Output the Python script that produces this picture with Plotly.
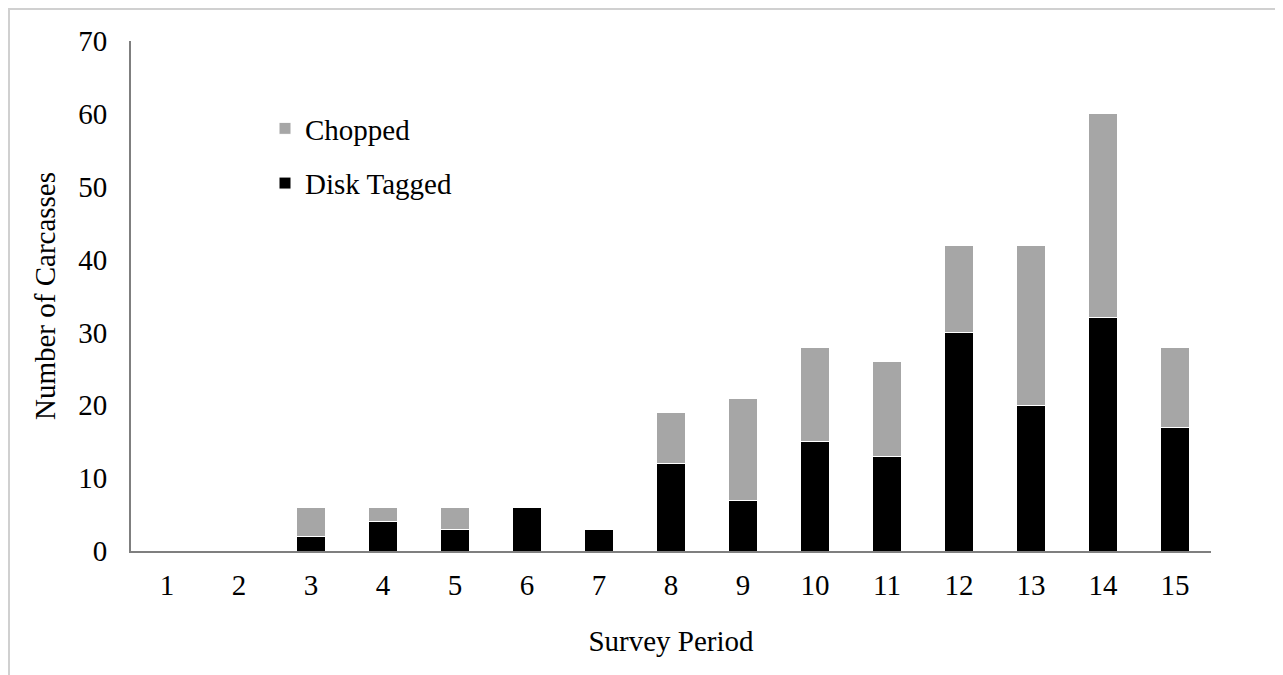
import plotly.graph_objects as go

periods = [str(i) for i in range(1, 16)]
disk_tagged = [0, 0, 2, 4, 3, 6, 3, 12, 7, 15, 13, 30, 20, 32, 17]
chopped = [0, 0, 4, 2, 3, 0, 0, 7, 14, 13, 13, 12, 22, 28, 11]
y_ticks = [0, 10, 20, 30, 40, 50, 60, 70]

FONT = "Liberation Serif"
FS = 29

fig = go.Figure()
fig.add_trace(go.Bar(x=periods, y=disk_tagged, name="Disk Tagged", legendgroup="g0",
                     legendrank=2,
                     marker=dict(color="#000000", line=dict(color="#ffffff", width=1))))
fig.add_trace(go.Bar(x=periods, y=chopped, name="Chopped", legendgroup="g1",
                     legendrank=1,
                     marker=dict(color="#a6a6a6", line=dict(color="#ffffff", width=1))))

# page has an 8px body margin; figure coordinates are page coordinates minus 8
W, H = 1275, 667
L, T = 123, 33
R = W - 1203
B = H - 543
pw = W - L - R
ph = H - T - B

fig.update_layout(
    width=W, height=H,
    barmode="stack", bargap=0.6,
    margin=dict(l=L, r=R, t=T, b=B, autoexpand=False),
    paper_bgcolor="white", plot_bgcolor="white",
    font=dict(family=FONT, size=FS, color="#000000"),
    showlegend=True,
    legend=dict(x=(257 - L) / pw, y=(543 - 95) / ph, xanchor="left", yanchor="top",
                traceorder="grouped", bgcolor="rgba(0,0,0,0)",
                font=dict(family=FONT, size=FS, color="#000000"),
                itemwidth=30, tracegroupgap=14),
    xaxis=dict(type="category", showgrid=False, showline=True, linecolor="#7f7f7f",
               linewidth=2, ticks="", ticklabelstandoff=7, automargin=False,
               tickfont=dict(family=FONT, size=FS),
               title=dict(text="Survey Period", standoff=31,
                          font=dict(family=FONT, size=FS))),
    yaxis=dict(range=[0, 70], tickvals=y_ticks, showgrid=False, showline=True,
               linecolor="#7f7f7f", linewidth=2, ticks="", ticklabelstandoff=16,
               zeroline=False, automargin=False,
               tickfont=dict(family=FONT, size=FS),
               title=dict(text="Number of Carcasses", standoff=14,
                          font=dict(family=FONT, size=FS))),
    shapes=[dict(type="rect", xref="paper", yref="paper",
                 x0=(1 - L) / pw, x1=(1320 - L) / pw,
                 y0=(543 - 720) / ph, y1=(543 - 1) / ph,
                 line=dict(color="#d0d0d0", width=2), fillcolor="rgba(0,0,0,0)",
                 layer="below")],
)

fig.write_html("out.html")
